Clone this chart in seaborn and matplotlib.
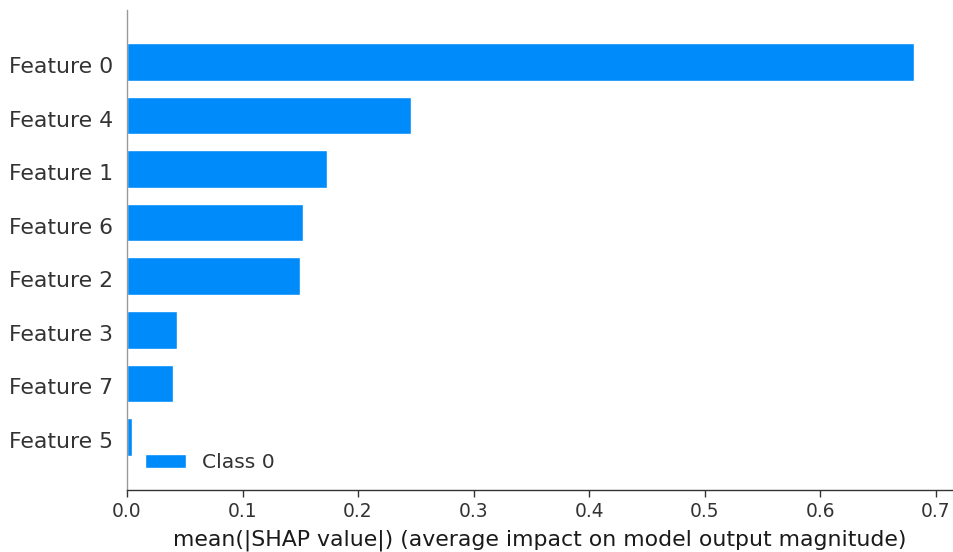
import matplotlib
matplotlib.use("Agg")
import matplotlib.pyplot as plt
import matplotlib.transforms as mtransforms
import seaborn as sns
import pandas as pd

features = ["Feature 0", "Feature 4", "Feature 1", "Feature 6", "Feature 2", "Feature 3", "Feature 7", "Feature 5"]
values = [0.681, 0.246, 0.173, 0.152, 0.150, 0.043, 0.040, 0.0045]
classes = ["Class 0"] * len(features)
xticks = [0.0, 0.1, 0.2, 0.3, 0.4, 0.5, 0.6, 0.7]

df = pd.DataFrame({"feature": features, "value": values, "cls": classes})

sns.set_style("white")
plt.rcParams['font.family'] = ['DejaVu Sans']

fig = plt.figure(figsize=(9.54, 5.52), dpi=100)
ax = fig.add_axes([127/954, 1 - 490/552, 1 - 127/954 - 0.001, (490 - 10)/552])

sns.barplot(data=df, x="value", y="feature", hue="cls", orient="h",
            palette=["#008bfb"], width=0.7, ax=ax, saturation=1)

ax.set_ylim(7.99, -0.97)
ax.set_xlim(0, 0.715)
ax.set_xticks(xticks)
ax.set_xticklabels([f"{t:.1f}" for t in xticks])
ax.set_ylabel("")
ax.set_xlabel("mean(|SHAP value|) (average impact on model output magnitude)", fontsize=15.8, color="#1a1a1a", labelpad=6)
ax.tick_params(axis="x", labelsize=13.4, labelcolor="#333333", color="#333333", bottom=True, length=5, width=1)
ax.tick_params(axis="y", labelsize=15.8, labelcolor="#333333", left=False, length=0, pad=10)
offset = mtransforms.ScaledTranslation(0, -3/100, fig.dpi_scale_trans)
for lbl in ax.get_yticklabels():
    lbl.set_transform(lbl.get_transform() + offset)

for s in ["top", "right"]:
    ax.spines[s].set_visible(False)
ax.spines["left"].set_color("#999999")
ax.spines["bottom"].set_color("#333333")
ax.spines["left"].set_linewidth(1)
ax.spines["bottom"].set_linewidth(1)

leg = ax.legend(frameon=False, fontsize=14.6, loc="lower left", borderaxespad=0.5)
for t in leg.get_texts():
    t.set_color("#333333")

fig.savefig("out.png", dpi=100)
